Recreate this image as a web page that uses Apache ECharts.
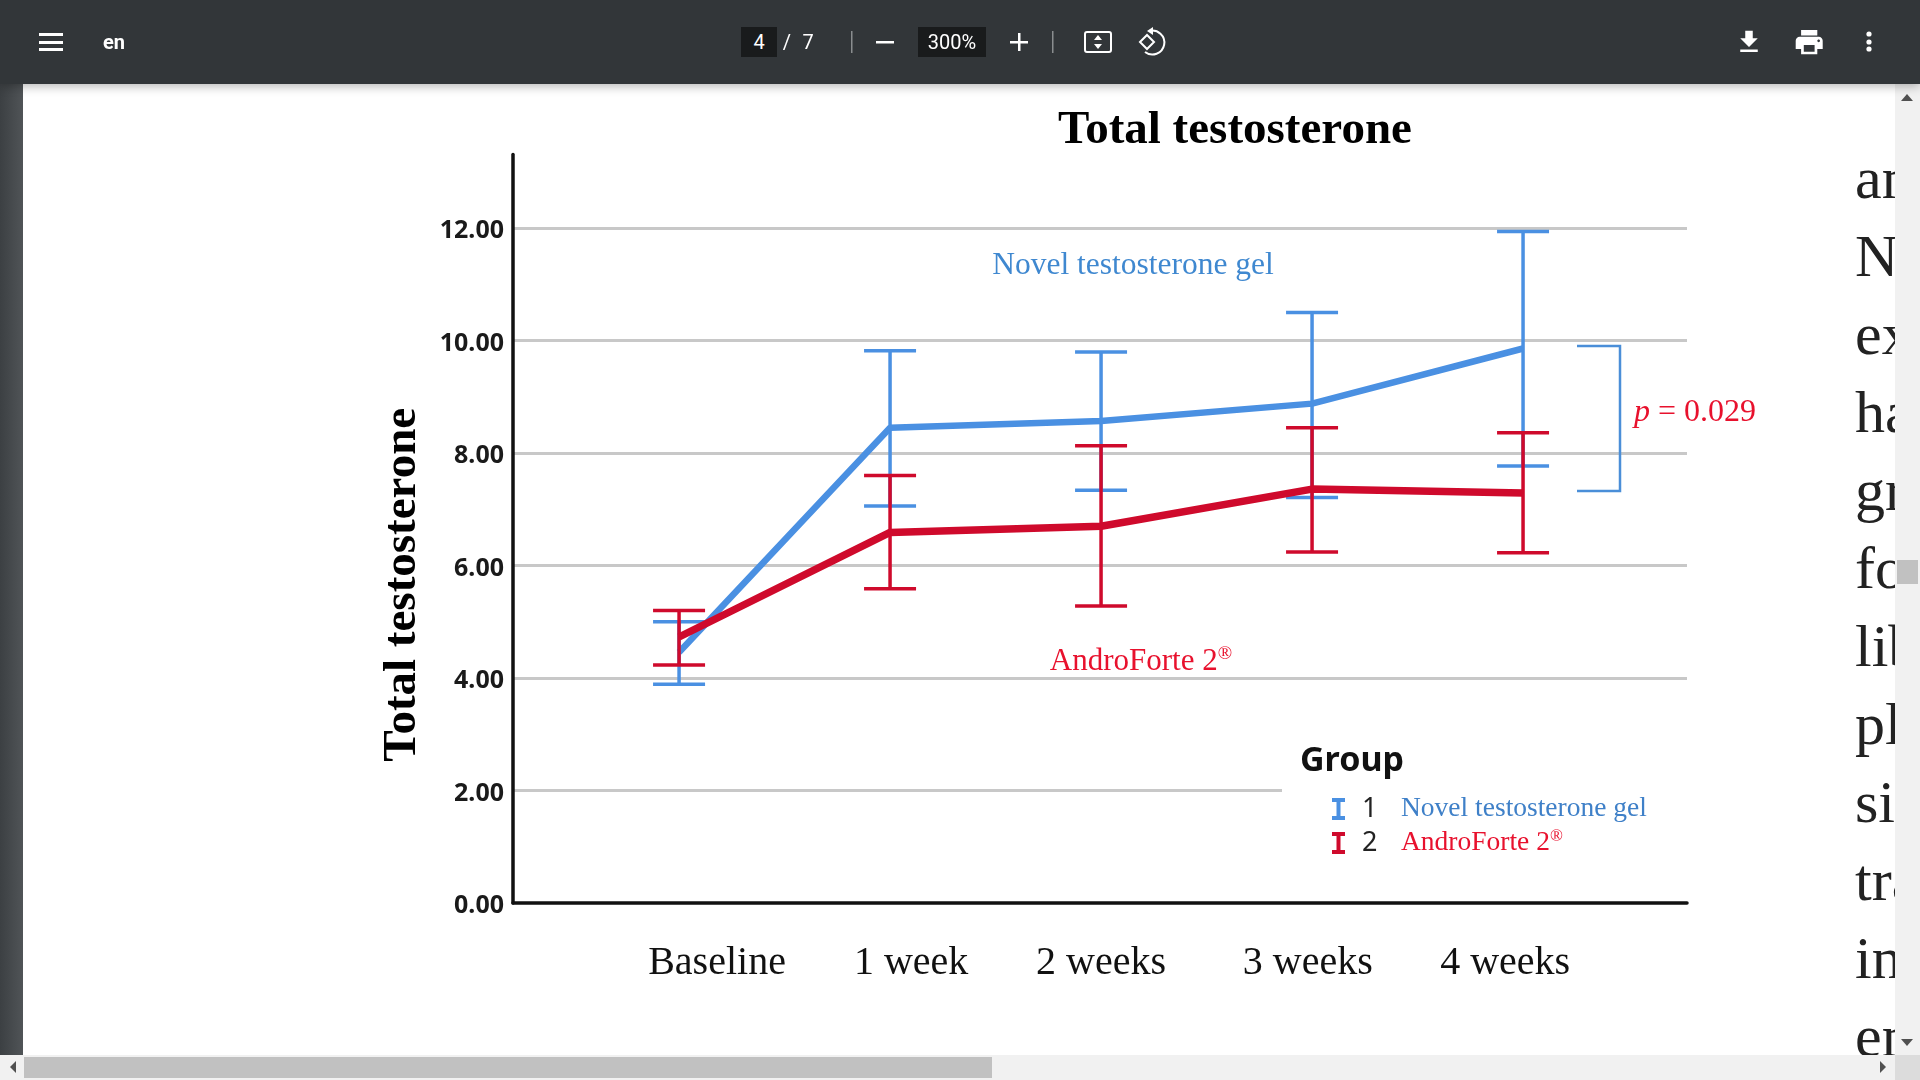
<!DOCTYPE html>
<html lang="en">

<head>
    <meta charset="utf-8" />
    <title>Total testosterone</title>
    <script src="https://cdn.jsdelivr.net/npm/echarts@6/dist/echarts.min.js"></script>
    <style>
      html, body {
        margin: 0;
        padding: 0;
        width: 1920px;
        height: 1080px;
        overflow: hidden;
        background: #fff;
      }
      #main {
        position: absolute;
        left: 0;
        top: 0;
        width: 1920px;
        height: 1080px;
      }
      /* pdf viewer frame around the chart */
      .bar {
        position: absolute;
        left: 0;
        top: 0;
        width: 1920px;
        height: 84px;
        background: #323639;
        box-shadow: 0 2px 10px rgba(0, 0, 0, .3);
        color: #fff;
        font-family: Roboto, sans-serif;
      }
      .bar span {
        position: absolute;
        top: 27px;
        height: 30px;
        line-height: 30px;
        font-size: 20px;
        text-align: center;
      }
      .bar .box { background: #191b1c; }
      .bar svg { position: absolute; left: 0; top: 0; }
      .side {
        position: absolute;
        left: 0;
        top: 84px;
        width: 23px;
        height: 971px;
        background: linear-gradient(to right, #3c4043, #505457);
      }
      .sb-v {
        position: absolute;
        left: 1895px;
        top: 84px;
        width: 25px;
        height: 971px;
        background: #f1f1f1;
      }
      .sb-h {
        position: absolute;
        left: 0;
        top: 1055px;
        width: 1920px;
        height: 25px;
        background: #f1f1f1;
      }
      .thumb { position: absolute; background: #c1c1c1; }
      .cut {
        position: absolute;
        left: 1855px;
        top: 139px;
        width: 40px;
        height: 916px;
        overflow: hidden;
        font: 60px/78px "Liberation Serif", serif;
        color: #222;
        white-space: nowrap;
      }
    </style>
</head>

<body>
    <div id="main"></div>

    <!-- text of the next column, cut off by the scrollbar -->
    <div class="cut" id="cut"></div>

    <div class="side"></div>
    <div class="sb-v">
        <div class="thumb" style="left:2px;top:476px;width:21px;height:24px"></div>
    </div>
    <div class="sb-h">
        <div class="thumb" style="left:24px;top:2px;width:968px;height:21px"></div>
        <div style="position:absolute;left:1895px;top:0;width:25px;height:25px;background:#dcdcdc"></div>
    </div>
    <svg style="position:absolute;left:0;top:0" width="1920" height="1080">
        <path d="M1901 101l6-7 6 7z" fill="#505050" />
        <path d="M1901 1039l6 7 6-7z" fill="#505050" />
        <path d="M16 1061l-6 6 6 6z" fill="#505050" />
        <path d="M1880 1061l6 6-6 6z" fill="#505050" />
    </svg>

    <div class="bar">
        <span style="left:100px;width:28px;font-weight:700">en</span>
        <span class="box" style="left:741px;width:36px">4</span>
        <span style="left:780px;width:14px">/</span>
        <span style="left:800px;width:16px">7</span>
        <span class="box" style="left:918px;width:68px">300%</span>
        <svg width="1920" height="84" fill="#fff">
            <rect x="39" y="33" width="24" height="3" />
            <rect x="39" y="41" width="24" height="3" />
            <rect x="39" y="48" width="24" height="3" />
            <rect x="851" y="31" width="1.5" height="22" fill="#8a8d8f" />
            <rect x="876" y="41" width="18" height="2.5" />
            <rect x="1010" y="41" width="18" height="2.5" />
            <rect x="1018" y="33" width="2.5" height="18" />
            <rect x="1052" y="31" width="1.5" height="22" fill="#8a8d8f" />
            <rect x="1085" y="32" width="26" height="20" rx="2" fill="none" stroke="#fff" stroke-width="2" />
            <path d="M1098 35l4 5h-8zM1098 49l4-5h-8z" />
            <path d="M1140 42l7-7 7 7-7 7z" fill="none" stroke="#fff" stroke-width="2" />
            <path d="M1149 31a12 12 0 1 1-4 21" fill="none" stroke="#fff" stroke-width="2" />
            <path d="M1153 27l-6 4 6 4z" />
            <path transform="translate(1734,27) scale(1.25)" d="M19 9h-4V3H9v6H5l7 7 7-7zM5 18v2h14v-2H5z" />
            <path transform="translate(1793,26) scale(1.35)" d="M19 8H5c-1.66 0-3 1.34-3 3v6h4v4h12v-4h4v-6c0-1.66-1.34-3-3-3zm-3 11H8v-5h8v5zm3-7c-.55 0-1-.45-1-1s.45-1 1-1 1 .45 1 1-.45 1-1 1zm-1-9H6v4h12V3z" />
            <circle cx="1869" cy="34" r="2.6" />
            <circle cx="1869" cy="42" r="2.6" />
            <circle cx="1869" cy="49" r="2.6" />
        </svg>
    </div>

    <script>
    var categories = ["Baseline", "1 week", "2 weeks", "3 weeks", "4 weeks"];
    // the week labels are not centred under the points in the original
    var labelAt = [0.18, 1.1, 2, 2.98, 3.915];

    // means and error bar ends
    var gelMean = [4.46, 8.45, 8.57, 8.88, 9.86];
    var gelUpper = [5.0, 9.82, 9.8, 10.5, 11.94];
    var gelLower = [3.89, 7.06, 7.34, 7.21, 7.77];
    var forteMean = [4.73, 6.59, 6.7, 7.36, 7.29];
    var forteUpper = [5.2, 7.6, 8.13, 8.45, 8.36];
    var forteLower = [4.23, 5.59, 5.28, 6.24, 6.23];

    var cutWords = ["an", "No", "ex", "ha", "gr", "fo", "lib", "pla", "sig", "tra", "in", "en"];

    var BLUE = "#4a90e2";
    var RED = "#cf0a2c";
    var SERIF = '"Liberation Serif", serif';
    var GEL_NAME = "Novel testosterone gel";
    var FORTE_NAME = "AndroForte 2®";
    var FORTE_PLAIN = "AndroForte 2"; // the ® is set smaller and raised

    document.getElementById("cut").innerHTML = cutWords.join("<br>");

    function points(values) {
      return values.map(function(v, i) {
        return [i, v];
      });
    }

    function ranges(upper, lower) {
      return upper.map(function(v, i) {
        return [i, v, lower[i]];
      });
    }

    // stem and two caps for one error bar
    function errorBar(color) {
      return function(params, api) {
        var top = api.coord([api.value(0), api.value(1)]);
        var bottom = api.coord([api.value(0), api.value(2)]);
        var style = { stroke: color, lineWidth: 3.5 };
        var seg = function(x1, y1, x2, y2) {
          return { type: "line", shape: { x1: x1, y1: y1, x2: x2, y2: y2 }, style: style };
        };
        return {
          type: "group",
          children: [
            seg(top[0], top[1], bottom[0], bottom[1]),
            seg(top[0] - 26, top[1], top[0] + 26, top[1]),
            seg(top[0] - 26, bottom[1], top[0] + 26, bottom[1])
          ]
        };
      };
    }

    function note(x, y, text, size, color, extra) {
      var style = {
        x: x,
        y: y,
        text: text,
        fill: color,
        font: size + "px " + SERIF,
        align: "center",
        verticalAlign: "middle"
      };
      for (var k in extra) style[k] = extra[k];
      return { type: "text", z: 20, style: style };
    }

    function legendItem(name, color) {
      var textColor = color == BLUE ? "#3f80c8" : "#e8112d";
      return {
        name: name,
        icon: "path://M0 0H13V4H8.5V18H13V22H0V18H4.5V4H0Z",
        itemStyle: { color: color, borderWidth: 0 },
        textStyle: {
          rich: {
            n: { width: 39, padding: [0, 0, 0, 12], fontFamily: "Noto Sans", fontSize: 27, color: "#222", lineHeight: 30 },
            t: { fontFamily: "Liberation Serif", fontSize: 27.5, color: textColor, lineHeight: 30 },
            s: { fontFamily: "Liberation Serif", fontSize: 17, color: textColor, lineHeight: 30, verticalAlign: "top", padding: [0, 0, 8, 0] }
          }
        }
      };
    }

    var myChart = echarts.init(document.getElementById("main"));
    var option = {
      animation: false,
      title: {
        text: "Total testosterone",
        left: 1230,
        top: 102,
        textAlign: "center",
        textStyle: { fontFamily: SERIF, fontSize: 47, fontWeight: "bold", color: "#000" }
      },
      grid: { left: 513, right: 233, top: 154.5, bottom: 177 },
      xAxis: {
        type: "value",
        min: -0.787,
        max: 4.777,
        splitLine: { show: false },
        axisTick: { show: false },
        axisLine: { onZero: false, lineStyle: { color: "#111", width: 3.5 } },
        axisLabel: {
          customValues: labelAt,
          margin: 40,
          fontFamily: SERIF,
          fontSize: 40,
          color: "#111",
          formatter: function(v) {
            return categories[labelAt.indexOf(v)];
          }
        }
      },
      yAxis: {
        type: "value",
        min: 0,
        max: 13.31,
        interval: 2,
        name: "Total testosterone",
        nameLocation: "middle",
        nameGap: 87,
        nameRotate: 90,
        nameTextStyle: {
          fontFamily: SERIF,
          fontSize: 47,
          fontWeight: "bold",
          color: "#000",
          padding: [0, 112, 0, 0]
        },
        axisTick: { show: false },
        axisLine: { onZero: false, lineStyle: { color: "#111", width: 3.5 } },
        splitLine: { showMinLine: false, showMaxLine: false, lineStyle: { color: "#c8c8c8", width: 3 } },
        axisLabel: {
          showMaxLabel: false,
          margin: 9,
          formatter: function(v) {
            return "{a|" + v.toFixed(2) + "}";
          },
          rich: {
            // tick labels sit a little below their grid lines
            a: {
              padding: [6, 0, 0, 0],
              fontFamily: "Noto Sans",
              fontWeight: "bold",
              fontSize: 25,
              color: "#1a1a1a"
            }
          }
        }
      },
      legend: {
        left: 1327,
        top: 790,
        orient: "vertical",
        align: "left",
        itemWidth: 13,
        itemHeight: 22,
        itemGap: 5,
        selectedMode: false,
        data: [legendItem(GEL_NAME, BLUE), legendItem(FORTE_NAME, RED)],
        formatter: function(name) {
          if (name == GEL_NAME) return "{n|1}{t|" + name + "}";
          return "{n|2}{t|" + FORTE_PLAIN + "}{s|®}";
        }
      },
      graphic: [
        // the 2.00 grid line stops before the legend
        { type: "rect", z: 10, shape: { x: 1282, y: 785, width: 410, height: 10 }, style: { fill: "#fff" } },
        // bracket between the two 4 week means
        {
          type: "polyline",
          z: 20,
          shape: { points: [[1577, 346], [1620, 346], [1620, 491], [1577, 491]] },
          style: { stroke: "#4a8ed8", lineWidth: 2.5, fill: null }
        },
        note(1133, 266, GEL_NAME, 31.5, "#3f88d0"),
        note(1141, 662, "{a|" + FORTE_PLAIN + "}{s|®}", 30, "#e8112d", {
          rich: {
            a: { fontFamily: "Liberation Serif", fontSize: 31, fill: "#e8112d", lineHeight: 34 },
            s: { fontFamily: "Liberation Serif", fontSize: 19, fill: "#e8112d", lineHeight: 34, verticalAlign: "top", padding: [0, 0, 8, 0] }
          }
        }),
        note(1695, 413, "{i|p}{n| = 0.029}", 32, "#e8112d", {
          rich: {
            i: { fontFamily: "Liberation Serif", fontStyle: "italic", fontSize: 32, fill: "#e8112d" },
            n: { fontFamily: "Liberation Serif", fontSize: 32, fill: "#e8112d" }
          }
        }),
        {
          type: "text",
          z: 20,
          style: {
            x: 1300,
            y: 761,
            text: "Group",
            fill: "#111",
            font: 'bold 34px "Noto Sans"',
            align: "left",
            verticalAlign: "middle"
          }
        }
      ],
      series: [
        {
          name: GEL_NAME,
          type: "custom",
          z: 2,
          data: ranges(gelUpper, gelLower),
          encode: { x: 0, y: [1, 2] },
          renderItem: errorBar(BLUE)
        },
        {
          name: GEL_NAME,
          type: "line",
          z: 3,
          symbol: "none",
          data: points(gelMean),
          itemStyle: { color: BLUE },
          lineStyle: { color: BLUE, width: 6.5 }
        },
        {
          name: FORTE_NAME,
          type: "custom",
          z: 4,
          data: ranges(forteUpper, forteLower),
          encode: { x: 0, y: [1, 2] },
          renderItem: errorBar(RED)
        },
        {
          name: FORTE_NAME,
          type: "line",
          z: 5,
          symbol: "none",
          data: points(forteMean),
          itemStyle: { color: RED },
          lineStyle: { color: RED, width: 7.5 }
        }
      ]
    };
    myChart.setOption(option);
    </script>
</body>

</html>
